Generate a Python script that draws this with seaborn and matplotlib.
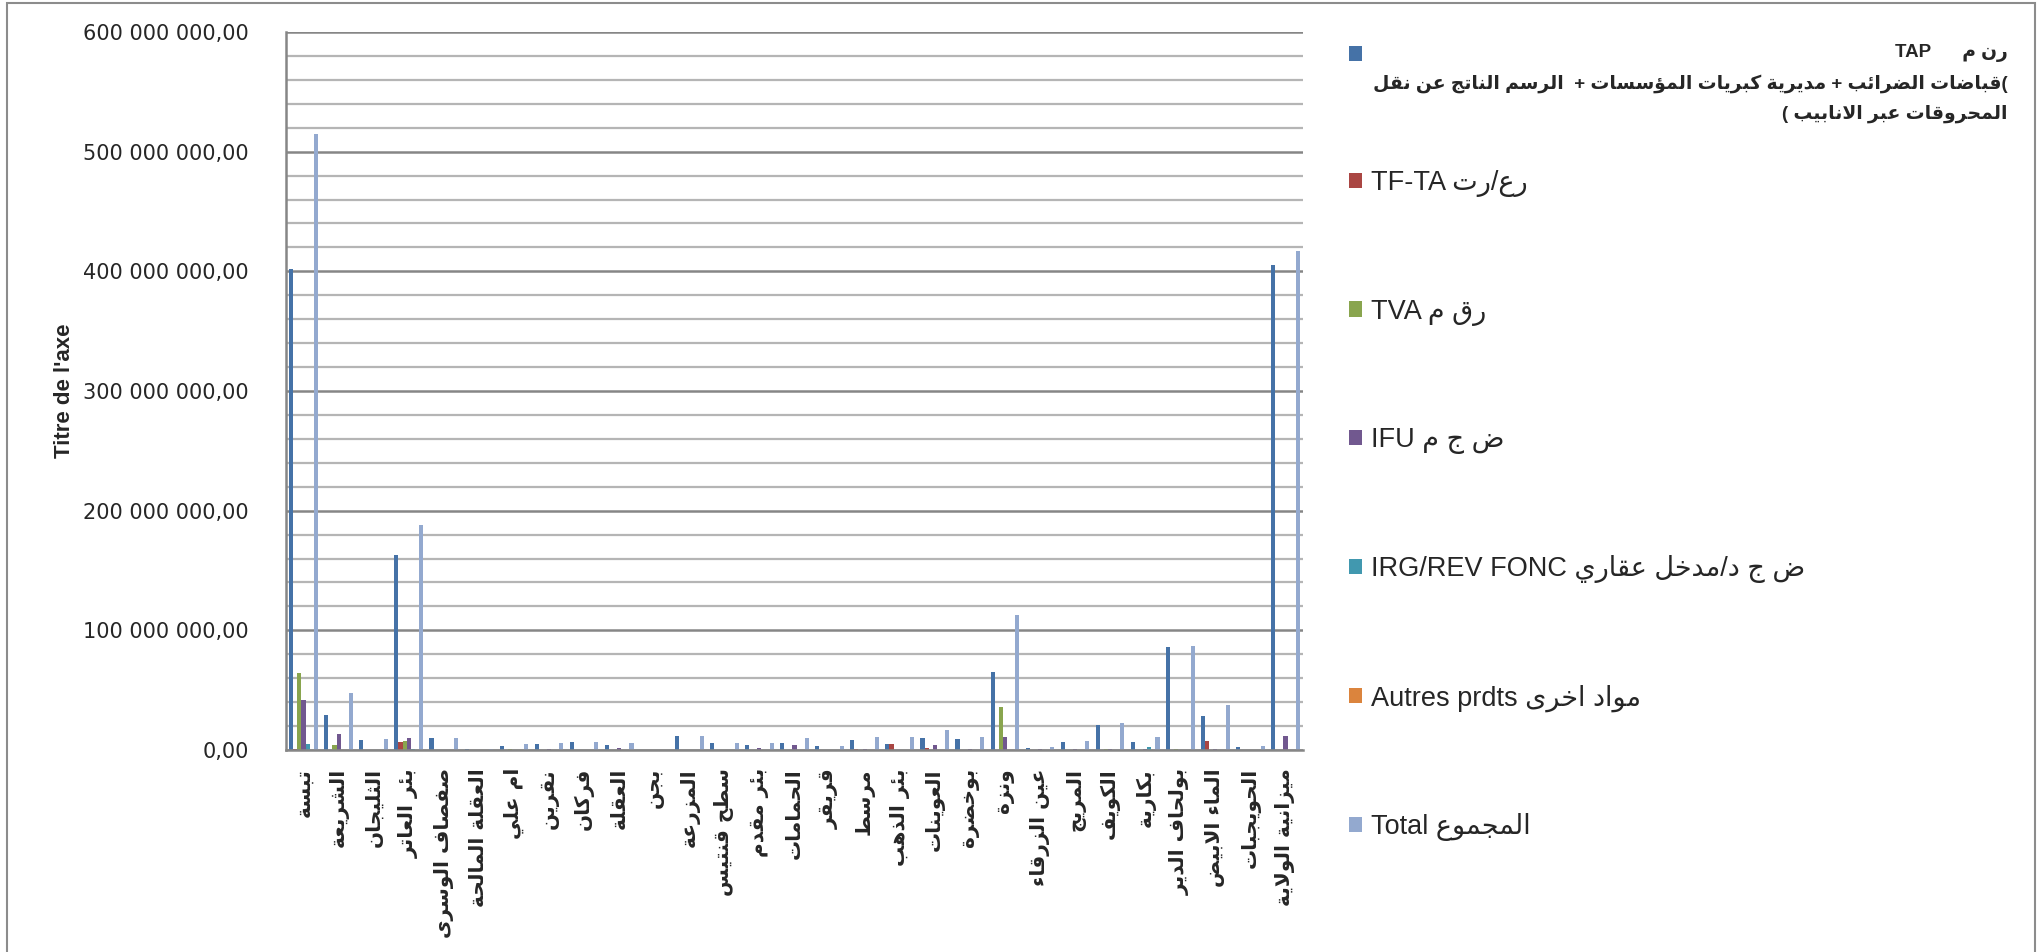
import numpy as np
import pandas as pd
import matplotlib
matplotlib.use('Agg')
import matplotlib.pyplot as plt
import seaborn as sns
from matplotlib.ticker import FuncFormatter, MultipleLocator
from matplotlib.patches import Rectangle

# --- data (values in DA) ---
regions = ['تبسة', 'الشريعة', 'الثليجان', 'بئر العاتر', 'صفصاف الوسرى', 'العقلة المالحة',
           'ام علي', 'نقرين', 'فركان', 'العقلة', 'بجن', 'المزرعة', 'سطح قنتيس', 'بئر مقدم',
           'الحمامات', 'قريقر', 'مرسط', 'بئر الذهب', 'العوينات', 'بوخضرة', 'ونزة',
           'عين الزرقاء', 'المريج', 'الكويف', 'بكارية', 'بولحاف الدير', 'الماء الابيض',
           'الحويجبات', 'ميزانية الولاية']

tap = [402, 29.6, 8.4, 163, 9.8, 1.1, 3.0, 5.0, 6.4, 3.9, 0.3, 11.7, 6.1, 4.2, 5.6,
       3.1, 8.4, 5.0, 10.0, 9.5, 64.8, 1.7, 6.4, 21.2, 7.0, 86.0, 28.5, 2.5, 405]
tf_ta = [1.0, 0.3, 0.1, 6.4, 0.1, 0, 0, 0, 0, 0, 0, 0, 0, 0, 0,
         0, 1.2, 5.0, 1.7, 0.2, 0.3, 0, 0, 0, 0, 0.2, 7.5, 0, 0.3]
tva = [64.0, 3.9, 0.3, 7.5, 0.2, 0, 1.0, 0.2, 0.2, 0, 0, 0, 0, 0, 0,
       0, 0, 0, 0, 0.3, 35.8, 0, 0, 0.5, 0, 0.5, 0.3, 0.2, 0.3]
ifu = [41.6, 13.0, 0.3, 10.0, 0.3, 0.3, 0.3, 1.0, 0.3, 1.7, 0, 0.2, 0.2, 1.7, 3.9,
       0.2, 1.0, 0.3, 4.2, 0.8, 10.9, 0.5, 0.5, 0.5, 0.5, 0.3, 1.0, 0.2, 11.3]
irg = [5.0, 0.3, 0, 0.5, 0, 0, 0, 0, 0, 0, 0, 0, 0, 0, 0,
       0, 0, 0, 0, 0, 0.3, 0, 0, 0, 2.2, 0, 0, 0, 0]
autres = [0.2, 0.3, 0.1, 0.3, 0.1, 0, 0.1, 0, 0, 0, 0, 0, 0, 0, 0,
          0, 0, 0, 0, 0, 0.2, 0, 0, 0, 0, 0, 0, 0, 0]
total = [515, 47.8, 8.9, 188, 10.0, 1.1, 5.0, 6.1, 6.7, 5.9, 0.3, 11.7, 6.1, 5.6, 10.0,
         3.4, 10.9, 10.6, 16.8, 10.9, 113, 2.8, 7.5, 22.9, 11.2, 87.2, 38.0, 3.4, 416.8]

series_keys = ['TAP', 'TF-TA', 'TVA', 'IFU', 'IRG', 'Autres', 'Total']
series_vals = [tap, tf_ta, tva, ifu, irg, autres, total]
colors = ['#4572A7', '#AA4643', '#89A54E', '#71588F', '#4198AF', '#DB843D', '#93A9CF']


# --- minimal arabic shaping (matplotlib has no complex text layout) ---
DUAL = {'ئ': 0xFE89, 'ب': 0xFE8F, 'ت': 0xFE95, 'ث': 0xFE99, 'ج': 0xFE9D, 'ح': 0xFEA1,
        'خ': 0xFEA5, 'س': 0xFEB1, 'ش': 0xFEB5, 'ص': 0xFEB9, 'ض': 0xFEBD, 'ط': 0xFEC1,
        'ظ': 0xFEC5, 'ع': 0xFEC9, 'غ': 0xFECD, 'ف': 0xFED1, 'ق': 0xFED5, 'ك': 0xFED9,
        'ل': 0xFEDD, 'م': 0xFEE1, 'ن': 0xFEE5, 'ه': 0xFEE9, 'ي': 0xFEF1}
RIGHT = {'آ': 0xFE81, 'أ': 0xFE83, 'ؤ': 0xFE85, 'إ': 0xFE87, 'ا': 0xFE8D, 'ة': 0xFE93,
         'د': 0xFEA9, 'ذ': 0xFEAB, 'ر': 0xFEAD, 'ز': 0xFEAF, 'و': 0xFEED, 'ى': 0xFEEF}
LAMALEF = {'آ': 0xFEF5, 'أ': 0xFEF7, 'إ': 0xFEF9, 'ا': 0xFEFB}
MIRROR = {'(': ')', ')': '('}


def ar(text):
    out = []
    i = 0
    n = len(text)
    while i < n:
        c = text[i]
        prev_join = i > 0 and text[i - 1] in DUAL
        if c == 'ل' and i + 1 < n and text[i + 1] in LAMALEF:
            out.append(chr(LAMALEF[text[i + 1]] + (1 if prev_join else 0)))
            i += 2
            continue
        if c in DUAL:
            nxt = text[i + 1] if i + 1 < n else ''
            next_join = nxt in DUAL or nxt in RIGHT
            if prev_join and next_join:
                f = 3
            elif prev_join:
                f = 1
            elif next_join:
                f = 2
            else:
                f = 0
            out.append(chr(DUAL[c] + f))
        elif c in RIGHT:
            out.append(chr(RIGHT[c] + (1 if prev_join else 0)))
        elif c == 'ء':
            out.append(chr(0xFE80))
        else:
            out.append(MIRROR.get(c, c))
        i += 1
    return ''.join(out)[::-1]


legend_labels = [' ',
                 'TF-TA ' + ar('رع/رت'),
                 'TVA ' + ar('رق م'),
                 'IFU ' + ar('ض ج م'),
                 'IRG/REV FONC ' + ar('ض ج د/مدخل عقاري'),
                 'Autres prdts ' + ar('مواد اخرى'),
                 'Total ' + ar('المجموع')]
tap_title = ('TAP      ' + ar('رن م') + '\n'
             + ar(')قباضات الضرائب + مديرية كبريات المؤسسات +  الرسم الناتج عن نقل') + '\n'
             + ar('المحروقات عبر الانابيب )'))

df = pd.DataFrame({
    'region': regions * len(series_keys),
    'series': np.repeat(series_keys, len(regions)),
    'value': np.concatenate([np.array(v) * 1e6 for v in series_vals]),
})

sns.set_style('white')
plt.rcParams['font.family'] = ['DejaVu Sans']
narrow = ['Liberation Sans Narrow', 'Liberation Sans', 'DejaVu Sans']

fig = plt.figure(figsize=(20.37, 9.52), dpi=100)
ax = fig.add_axes([286 / 2037, 1 - 750 / 952, (1303 - 286) / 2037, (750 - 32) / 952])

sns.barplot(data=df, x='region', y='value', hue='series', hue_order=series_keys,
            palette=colors, saturation=1, width=0.82, ax=ax, linewidth=0)

handles, _ = ax.get_legend_handles_labels()
if ax.get_legend() is not None:
    ax.get_legend().remove()

ax.set_xlim(-0.5, len(regions) - 0.5)
ax.set_ylim(0, 600e6)
ax.yaxis.set_major_locator(MultipleLocator(100e6))
ax.yaxis.set_minor_locator(MultipleLocator(20e6))
ax.yaxis.set_major_formatter(FuncFormatter(
    lambda v, p: f'{v:,.2f}'.replace(',', ' ').replace('.', ',')))
ax.set_axisbelow(True)
ax.grid(axis='y', which='minor', color='#b5b5b5', lw=1.6)
ax.grid(axis='y', which='major', color='#868686', lw=1.8)
ax.tick_params(axis='y', which='major', direction='out', length=8, width=1.5,
               color='#868686', labelsize=15, pad=19)
ax.tick_params(axis='y', which='minor', direction='in', length=4, width=1.2, color='#868686')
ax.tick_params(axis='x', length=0, pad=13)

ax.set_xticks(range(len(regions)))
ax.set_xticklabels([ar(r) for r in regions], rotation=90, fontsize=14.5,
                   fontweight='bold', va='top', ha='center')

for s in ['top', 'right']:
    ax.spines[s].set_visible(False)
for s in ['left', 'bottom']:
    ax.spines[s].set_color('#868686')
    ax.spines[s].set_linewidth(1.8)

ax.set_xlabel('')
ax.set_ylabel("Titre de l'axe", fontsize=16, fontweight='bold', family=narrow)
ax.yaxis.set_label_coords(-0.207, 0.5)

fig.legend(handles, legend_labels, loc='upper left',
           bbox_to_anchor=(1349 / 2037, 1 - 43 / 952), frameon=False,
           prop={'family': narrow, 'size': 19.5}, handlelength=0.49, handleheight=0.49,
           handletextpad=0.34, labelspacing=3.74, borderpad=0, borderaxespad=0)

fig.text(2008 / 2037, 1 - 44 / 952, tap_title, ha='right', va='top',
         multialignment='right', fontsize=13.5, fontweight='bold', family=narrow,
         linespacing=1.82)

fig.patches.append(Rectangle((7 / 2037, -0.01), 2028 / 2037, 1.01 - 3 / 952,
                             transform=fig.transFigure, fill=False,
                             edgecolor='#8c8c8c', lw=1.5))

fig.savefig('out.png', dpi=100)
